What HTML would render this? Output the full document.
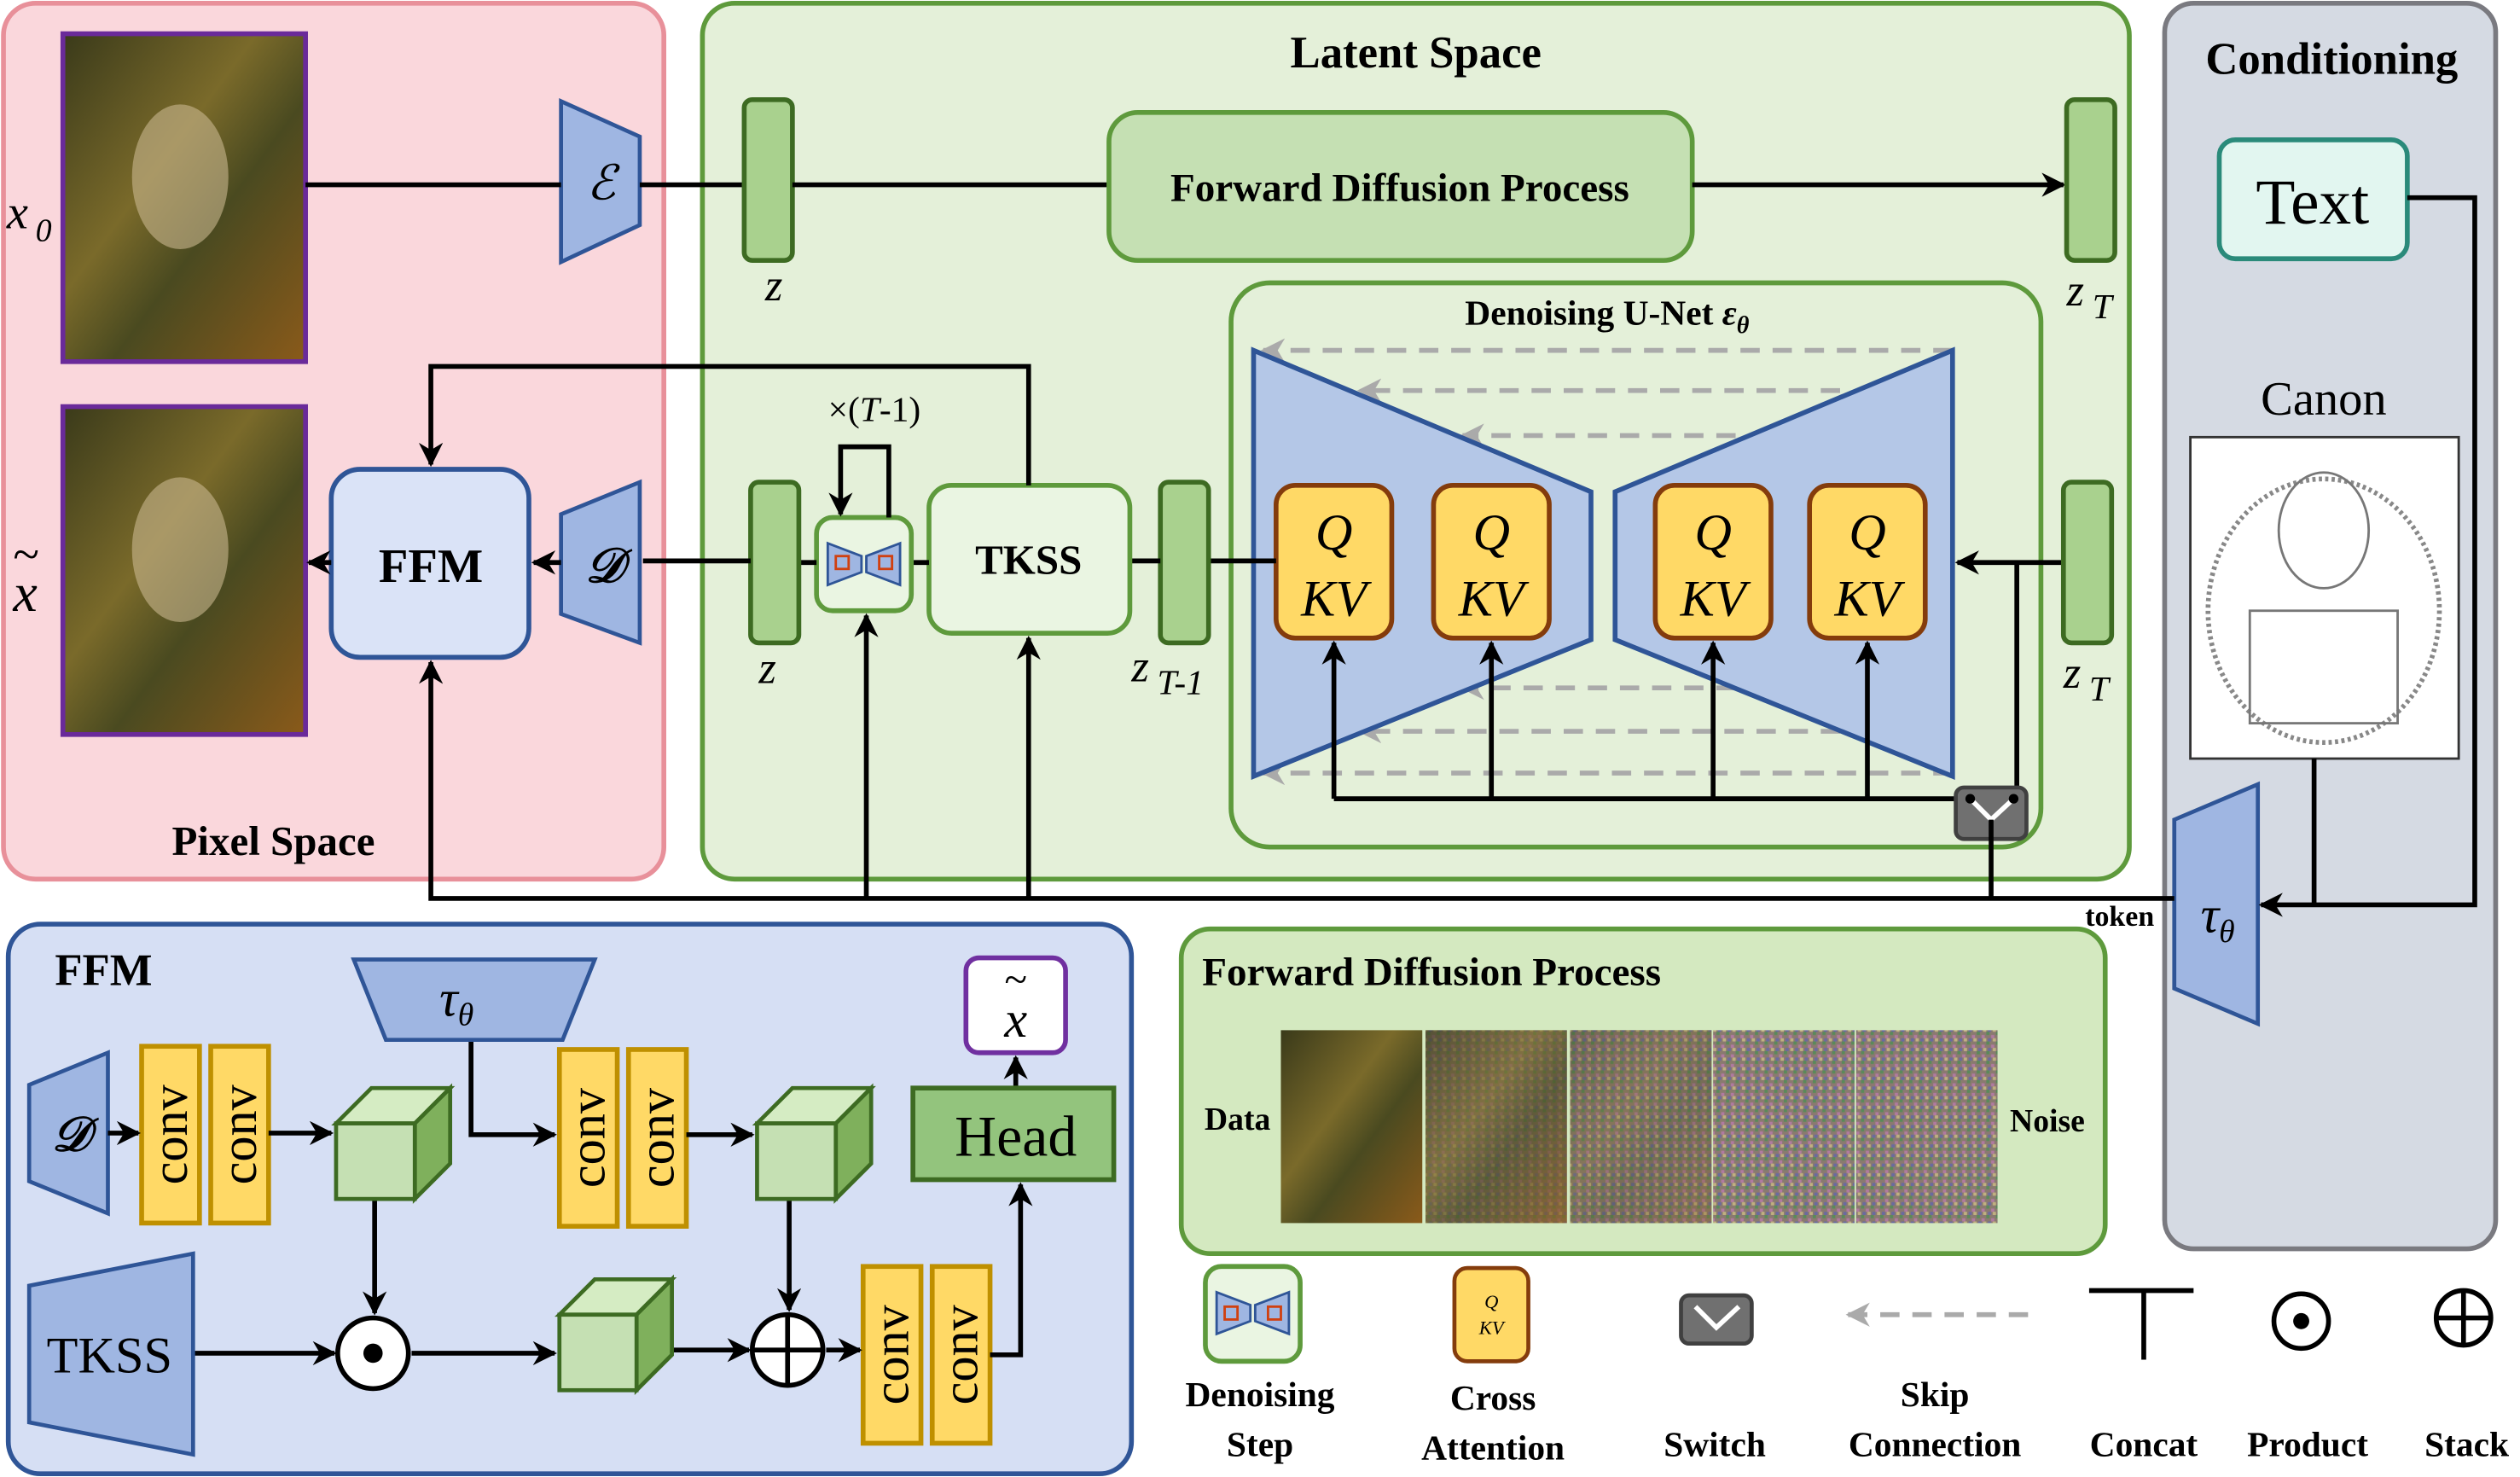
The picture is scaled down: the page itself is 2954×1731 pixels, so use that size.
<!DOCTYPE html>
<html><head><meta charset="utf-8"><style>
html,body{margin:0;padding:0;background:#fff}
svg{display:block}
text{font-family:"Liberation Serif",serif}
</style></head><body>
<svg width="2954" height="1731" viewBox="0 0 1568 919" xmlns="http://www.w3.org/2000/svg">
<defs>
<marker id="ar" viewBox="0 0 10 10" refX="9" refY="5" markerWidth="5" markerHeight="5" orient="auto-start-reverse"><path d="M0,0 L10,5 L0,10 L3,5 z" fill="#000"/></marker>
<marker id="ag" viewBox="0 0 10 10" refX="9" refY="5" markerWidth="5" markerHeight="5" orient="auto"><path d="M0,0 L10,5 L0,10 L3,5 z" fill="#aaa"/></marker>
<linearGradient id="paint" x1="0" y1="0" x2="1" y2="1"><stop offset="0" stop-color="#3a3a1a"/><stop offset=".4" stop-color="#7a6a2a"/><stop offset=".6" stop-color="#4a4a20"/><stop offset="1" stop-color="#8a5a1a"/></linearGradient>
<pattern id="noise" width="6" height="6" patternUnits="userSpaceOnUse"><rect width="6" height="6" fill="#8a7a70"/><rect width="2" height="2" fill="#5a8a5a"/><rect x="3" y="2" width="2" height="2" fill="#b07aa0"/><rect x="1" y="4" width="2" height="2" fill="#6a6aa0"/><rect x="4" y="4" width="2" height="2" fill="#c0b080"/></pattern>
</defs>

<rect x="2" y="2" width="411" height="545" rx="20" fill="#fad7dc" stroke="#e8909a" stroke-width="3"/>
<text x="170" y="532" font-size="26" font-weight="bold" text-anchor="middle">Pixel Space</text>
<rect x="437" y="2" width="888" height="545" rx="20" fill="#e4f0d9" stroke="#5e9a3c" stroke-width="3"/>
<text x="881" y="42" font-size="28" font-weight="bold" text-anchor="middle">Latent Space</text>
<rect x="1347" y="2" width="206" height="775" rx="18" fill="#d5dae3" stroke="#7a7a80" stroke-width="3"/>
<text x="1451" y="46" font-size="28" font-weight="bold" text-anchor="middle">Conditioning</text>

<rect x="39" y="21" width="151" height="204" fill="url(#paint)" stroke="#6a2a9a" stroke-width="3"/>
<ellipse cx="112" cy="110" rx="30" ry="45" fill="#c9b890" opacity=".6"/>
<rect x="39" y="253" width="151" height="204" fill="url(#paint)" stroke="#6a2a9a" stroke-width="3"/>
<ellipse cx="112" cy="342" rx="30" ry="45" fill="#c9b890" opacity=".6"/>
<text x="4" y="142" font-size="30" font-style="italic">x</text><text x="22" y="150" font-size="20" font-style="italic">0</text>
<text x="8" y="380" font-size="34" font-style="italic">x</text><text x="8" y="355" font-size="30">~</text>

<polygon points="349,63 398,85 398,140 349,163" fill="#9fb6e2" stroke="#2f5597" stroke-width="2.5"/>
<text x="374" y="124" font-size="30" font-style="italic" text-anchor="middle">ℰ</text>
<polygon points="349,320 398,300 398,400 349,382" fill="#9fb6e2" stroke="#2f5597" stroke-width="2.5"/>
<text x="376" y="362" font-size="30" font-style="italic" font-weight="bold" text-anchor="middle">𝒟</text>

<line x1="190" y1="115" x2="349" y2="115" stroke="#000" stroke-width="3"/>
<line x1="398" y1="115" x2="463" y2="115" stroke="#000" stroke-width="3"/>
<rect x="463" y="62" width="30" height="100" rx="5" fill="#a9d18e" stroke="#3d6b22" stroke-width="3"/>
<text x="476" y="187" font-size="28" font-style="italic">z</text>
<line x1="493" y1="115" x2="690" y2="115" stroke="#000" stroke-width="3"/>
<rect x="690" y="70" width="363" height="92" rx="18" fill="#c5e0b3" stroke="#5e9a3c" stroke-width="3"/>
<text x="871" y="125" font-size="25" font-weight="bold" text-anchor="middle">Forward Diffusion Process</text>
<line x1="1053" y1="115" x2="1284" y2="115" stroke="#000" stroke-width="3" marker-end="url(#ar)"/>
<rect x="1286" y="62" width="30" height="100" rx="5" fill="#a9d18e" stroke="#3d6b22" stroke-width="3"/>
<text x="1286" y="190" font-size="28" font-style="italic">z</text><text x="1302" y="198" font-size="22" font-style="italic">T</text>

<rect x="1381" y="87" width="117" height="74" rx="10" fill="#e2f6f0" stroke="#2a8a7a" stroke-width="3"/>
<text x="1439" y="139" font-size="40" text-anchor="middle">Text</text>
<text x="1446" y="258" font-size="30" text-anchor="middle">Canon</text>
<rect x="1363" y="272" width="167" height="200" fill="#fff" stroke="#333" stroke-width="1.5"/>
<ellipse cx="1446" cy="380" rx="72" ry="82" fill="none" stroke="#888" stroke-width="3" stroke-dasharray="2 2"/>
<ellipse cx="1446" cy="330" rx="28" ry="36" fill="none" stroke="#777" stroke-width="1.5"/>
<rect x="1400" y="380" width="92" height="70" fill="none" stroke="#777" stroke-width="1.5"/>
<polygon points="1353,510 1405,488 1405,637 1353,615" fill="#9fb6e2" stroke="#2f5597" stroke-width="2.5"/>
<text x="1380" y="580" font-size="32" font-style="italic" text-anchor="middle">τ<tspan font-size="20" dy="6">θ</tspan></text>
<text x="1319" y="576" font-size="18" font-weight="bold" text-anchor="middle">token</text>
<polyline points="1498,123 1540,123 1540,563 1407,563" fill="none" stroke="#000" stroke-width="3" marker-end="url(#ar)"/>
<polyline points="1440,472 1440,563" fill="none" stroke="#000" stroke-width="3"/>

<rect x="766" y="176" width="504" height="351" rx="24" fill="#e4f0d9" stroke="#5e9a3c" stroke-width="3"/>
<text x="1000" y="202" font-size="22" font-weight="bold" text-anchor="middle">Denoising U-Net <tspan font-style="italic">ε</tspan><tspan font-size="15" dy="5" font-style="italic">θ</tspan></text>
<g stroke="#aaa" stroke-width="3" stroke-dasharray="12 8" fill="none">
<line x1="1215" y1="218" x2="786" y2="218" marker-end="url(#ag)"/>
<line x1="1145" y1="243" x2="846" y2="243" marker-end="url(#ag)"/>
<line x1="1080" y1="271" x2="910" y2="271" marker-end="url(#ag)"/>
<line x1="1080" y1="428" x2="910" y2="428" marker-end="url(#ag)"/>
<line x1="1145" y1="455" x2="846" y2="455" marker-end="url(#ag)"/>
<line x1="1215" y1="481" x2="786" y2="481" marker-end="url(#ag)"/>
</g>
<polygon points="780,218 990,306 990,398 780,483" fill="#b4c7e7" stroke="#2f5597" stroke-width="3"/>
<polygon points="1005,306 1215,218 1215,483 1005,398" fill="#b4c7e7" stroke="#2f5597" stroke-width="3"/>
<g fill="#ffd966" stroke="#843c0c" stroke-width="3">
<rect x="794" y="302" width="72" height="95" rx="12"/><rect x="892" y="302" width="72" height="95" rx="12"/>
<rect x="1030" y="302" width="72" height="95" rx="12"/><rect x="1126" y="302" width="72" height="95" rx="12"/>
</g>
<g font-size="32" font-style="italic" text-anchor="middle">
<text x="830" y="342">Q</text><text x="830" y="383">KV</text>
<text x="928" y="342">Q</text><text x="928" y="383">KV</text>
<text x="1066" y="342">Q</text><text x="1066" y="383">KV</text>
<text x="1162" y="342">Q</text><text x="1162" y="383">KV</text>
</g>
<g stroke="#000" stroke-width="3" fill="none">
<line x1="830" y1="497" x2="830" y2="400" marker-end="url(#ar)"/>
<line x1="928" y1="497" x2="928" y2="400" marker-end="url(#ar)"/>
<line x1="1066" y1="497" x2="1066" y2="400" marker-end="url(#ar)"/>
<line x1="1162" y1="497" x2="1162" y2="400" marker-end="url(#ar)"/>
<line x1="830" y1="497" x2="1226" y2="497"/>
<line x1="1284" y1="350" x2="1218" y2="350" marker-end="url(#ar)"/>
<line x1="1255" y1="350" x2="1255" y2="497"/>
</g>
<rect x="1217" y="490" width="44" height="32" rx="5" fill="#707070" stroke="#404040" stroke-width="2.5"/>
<polyline points="1226,497 1239,510 1253,497" fill="none" stroke="#fff" stroke-width="3"/>
<circle cx="1226" cy="497" r="3" fill="#000"/><circle cx="1253" cy="497" r="3" fill="#000"/>
<line x1="1239" y1="510" x2="1239" y2="559" stroke="#000" stroke-width="3"/>

<rect x="1284" y="300" width="30" height="100" rx="5" fill="#a9d18e" stroke="#3d6b22" stroke-width="3"/>
<text x="1284" y="428" font-size="28" font-style="italic">z</text><text x="1300" y="436" font-size="22" font-style="italic">T</text>
<line x1="752" y1="349" x2="794" y2="349" stroke="#000" stroke-width="3"/>
<rect x="722" y="300" width="30" height="100" rx="5" fill="#a9d18e" stroke="#3d6b22" stroke-width="3"/>
<text x="704" y="424" font-size="28" font-style="italic">z</text><text x="720" y="432" font-size="22" font-style="italic">T-1</text>
<line x1="703" y1="349" x2="722" y2="349" stroke="#000" stroke-width="3"/>
<rect x="578" y="302" width="125" height="92" rx="14" fill="#eaf5e2" stroke="#5e9a3c" stroke-width="3"/>
<text x="640" y="357" font-size="26" font-weight="bold" text-anchor="middle">TKSS</text>
<line x1="567" y1="350" x2="578" y2="350" stroke="#000" stroke-width="3"/>
<rect x="508" y="322" width="59" height="58" rx="10" fill="#eaf5e2" stroke="#5e9a3c" stroke-width="3"/>
<polygon points="515,338 536,346 536,356 515,364" fill="#9fb6e2" stroke="#2f5597" stroke-width="1.5"/>
<polygon points="560,338 539,346 539,356 560,364" fill="#9fb6e2" stroke="#2f5597" stroke-width="1.5"/>
<rect x="520" y="346" width="8" height="8" fill="none" stroke="#d04010" stroke-width="1.5"/>
<rect x="547" y="346" width="8" height="8" fill="none" stroke="#d04010" stroke-width="1.5"/>
<polyline points="553,322 553,278 523,278 523,320" fill="none" stroke="#000" stroke-width="3" marker-end="url(#ar)"/>
<text x="544" y="262" font-size="22" text-anchor="middle">×(<tspan font-style="italic">T</tspan>-1)</text>
<line x1="497" y1="350" x2="508" y2="350" stroke="#000" stroke-width="3"/>
<rect x="467" y="300" width="30" height="100" rx="5" fill="#a9d18e" stroke="#3d6b22" stroke-width="3"/>
<text x="472" y="425" font-size="28" font-style="italic">z</text>
<line x1="467" y1="349" x2="400" y2="349" stroke="#000" stroke-width="3"/>
<line x1="349" y1="350" x2="332" y2="350" stroke="#000" stroke-width="3" marker-end="url(#ar)"/>
<rect x="206" y="292" width="123" height="117" rx="18" fill="#dae3f7" stroke="#2f5597" stroke-width="3"/>
<text x="268" y="362" font-size="30" font-weight="bold" text-anchor="middle">FFM</text>
<line x1="206" y1="350" x2="192" y2="350" stroke="#000" stroke-width="3" marker-end="url(#ar)"/>
<polyline points="640,302 640,228 268,228 268,289" fill="none" stroke="#000" stroke-width="3" marker-end="url(#ar)"/>
<polyline points="1353,559 268,559 268,412" fill="none" stroke="#000" stroke-width="3" marker-end="url(#ar)"/>
<line x1="539" y1="559" x2="539" y2="383" stroke="#000" stroke-width="3" marker-end="url(#ar)"/>
<line x1="640" y1="559" x2="640" y2="397" stroke="#000" stroke-width="3" marker-end="url(#ar)"/>

<rect x="5" y="575" width="699" height="342" rx="20" fill="#d6dff4" stroke="#2f5597" stroke-width="3"/>
<text x="34" y="613" font-size="28" font-weight="bold">FFM</text>
<polygon points="18,675 67,655 67,755 18,735" fill="#9fb6e2" stroke="#2f5597" stroke-width="2.5"/>
<text x="44" y="716" font-size="30" font-style="italic" font-weight="bold" text-anchor="middle">𝒟</text>
<g fill="#ffd966" stroke="#bf9000" stroke-width="3">
<rect x="88" y="651" width="36" height="110"/><rect x="131" y="651" width="36" height="110"/>
<rect x="348" y="653" width="36" height="110"/><rect x="391" y="653" width="36" height="110"/>
<rect x="537" y="788" width="36" height="110"/><rect x="580" y="788" width="36" height="110"/>
</g>
<g font-size="32" text-anchor="middle">
<text transform="translate(116,706) rotate(-90)">conv</text><text transform="translate(159,706) rotate(-90)">conv</text>
<text transform="translate(376,708) rotate(-90)">conv</text><text transform="translate(419,708) rotate(-90)">conv</text>
<text transform="translate(565,843) rotate(-90)">conv</text><text transform="translate(608,843) rotate(-90)">conv</text>
</g>
<g stroke="#000" stroke-width="3" fill="none">
<line x1="67" y1="705" x2="86" y2="705" marker-end="url(#ar)"/>
<line x1="167" y1="705" x2="206" y2="705" marker-end="url(#ar)"/>
<line x1="427" y1="706" x2="468" y2="706" marker-end="url(#ar)"/>
<polyline points="293,647 293,706 345,706" marker-end="url(#ar)"/>
<line x1="233" y1="746" x2="233" y2="817" marker-end="url(#ar)"/>
<line x1="491" y1="746" x2="491" y2="815" marker-end="url(#ar)"/>
<line x1="120" y1="842" x2="208" y2="842" marker-end="url(#ar)"/>
<line x1="256" y1="842" x2="345" y2="842" marker-end="url(#ar)"/>
<line x1="418" y1="840" x2="466" y2="840" marker-end="url(#ar)"/>
<line x1="514" y1="840" x2="535" y2="840" marker-end="url(#ar)"/>
<polyline points="616,843 635,843 635,737" marker-end="url(#ar)"/>
<line x1="632" y1="677" x2="632" y2="658" marker-end="url(#ar)"/>
</g>
<g stroke="#3d6b22" stroke-width="2.5">
<polygon points="209,699 231,677 280,677 258,699" fill="#d5ecc3"/><polygon points="258,699 280,677 280,724 258,746" fill="#7fb05c"/><rect x="209" y="699" width="49" height="47" fill="#c5e0b3"/>
<polygon points="471,699 493,677 542,677 520,699" fill="#d5ecc3"/><polygon points="520,699 542,677 542,724 520,746" fill="#7fb05c"/><rect x="471" y="699" width="49" height="47" fill="#c5e0b3"/>
<polygon points="348,818 370,796 418,796 396,818" fill="#d5ecc3"/><polygon points="396,818 418,796 418,843 396,865" fill="#7fb05c"/><rect x="348" y="818" width="48" height="47" fill="#c5e0b3"/>
</g>
<polygon points="220,597 370,597 350,647 240,647" fill="#9fb6e2" stroke="#2f5597" stroke-width="2.5"/>
<text x="284" y="632" font-size="32" font-style="italic" text-anchor="middle">τ<tspan font-size="20" dy="6">θ</tspan></text>
<rect x="601" y="596" width="62" height="59" rx="8" fill="#fff" stroke="#7030a0" stroke-width="3"/>
<text x="632" y="645" font-size="32" font-style="italic" text-anchor="middle">x</text><text x="632" y="618" font-size="26" text-anchor="middle">~</text>
<rect x="568" y="677" width="125" height="57" fill="#93c47d" stroke="#3d6b22" stroke-width="3"/>
<text x="632" y="719" font-size="36" text-anchor="middle">Head</text>
<polygon points="18,800 120,780 120,905 18,885" fill="#9fb6e2" stroke="#2f5597" stroke-width="2.5"/>
<text x="68" y="854" font-size="32" text-anchor="middle">TKSS</text>
<circle cx="232" cy="842" r="22" fill="#fff" stroke="#000" stroke-width="3"/><circle cx="232" cy="842" r="6" fill="#000"/>
<circle cx="490" cy="840" r="22" fill="#fff" stroke="#000" stroke-width="3"/>
<line x1="468" y1="840" x2="512" y2="840" stroke="#000" stroke-width="3"/><line x1="490" y1="818" x2="490" y2="862" stroke="#000" stroke-width="3"/>

<rect x="735" y="578" width="575" height="202" rx="18" fill="#d4e9c0" stroke="#5e9a3c" stroke-width="3"/>
<text x="748" y="613" font-size="25" font-weight="bold">Forward Diffusion Process</text>
<text x="770" y="703" font-size="20" font-weight="bold" text-anchor="middle">Data</text>
<text x="1274" y="704" font-size="20" font-weight="bold" text-anchor="middle">Noise</text>
<rect x="797" y="641" width="88" height="120" fill="url(#paint)"/>
<rect x="887" y="641" width="88" height="120" fill="url(#paint)"/><rect x="887" y="641" width="88" height="120" fill="url(#noise)" opacity=".35"/>
<rect x="977" y="641" width="88" height="120" fill="url(#paint)"/><rect x="977" y="641" width="88" height="120" fill="url(#noise)" opacity=".7"/>
<rect x="1066" y="641" width="88" height="120" fill="url(#noise)"/>
<rect x="1155" y="641" width="88" height="120" fill="url(#noise)"/>

<rect x="750" y="788" width="59" height="59" rx="10" fill="#eaf5e2" stroke="#5e9a3c" stroke-width="3"/>
<polygon points="757,804 778,812 778,822 757,830" fill="#9fb6e2" stroke="#2f5597" stroke-width="1.5"/>
<polygon points="802,804 781,812 781,822 802,830" fill="#9fb6e2" stroke="#2f5597" stroke-width="1.5"/>
<rect x="762" y="813" width="8" height="8" fill="none" stroke="#d04010" stroke-width="1.5"/>
<rect x="789" y="813" width="8" height="8" fill="none" stroke="#d04010" stroke-width="1.5"/>
<rect x="905" y="789" width="46" height="58" rx="8" fill="#ffd966" stroke="#843c0c" stroke-width="2.5"/>
<text x="928" y="814" font-size="12" font-style="italic" text-anchor="middle">Q</text><text x="928" y="830" font-size="12" font-style="italic" text-anchor="middle">KV</text>
<rect x="1046" y="806" width="44" height="30" rx="5" fill="#707070" stroke="#404040" stroke-width="2.5"/>
<polyline points="1055,813 1068,826 1082,813" fill="none" stroke="#fff" stroke-width="3"/>
<line x1="1262" y1="818" x2="1150" y2="818" stroke="#aaa" stroke-width="3" stroke-dasharray="12 8" marker-end="url(#ag)"/>
<line x1="1300" y1="803" x2="1365" y2="803" stroke="#000" stroke-width="3"/><line x1="1334" y1="803" x2="1334" y2="846" stroke="#000" stroke-width="3"/>
<circle cx="1432" cy="822" r="17" fill="#fff" stroke="#000" stroke-width="3"/><circle cx="1432" cy="822" r="5" fill="#000"/>
<circle cx="1533" cy="820" r="17" fill="#fff" stroke="#000" stroke-width="3"/>
<line x1="1516" y1="820" x2="1550" y2="820" stroke="#000" stroke-width="3"/><line x1="1533" y1="803" x2="1533" y2="837" stroke="#000" stroke-width="3"/>
<g font-size="22" font-weight="bold" text-anchor="middle">
<text x="784" y="875">Denoising</text><text x="784" y="906">Step</text>
<text x="929" y="877">Cross</text><text x="929" y="908">Attention</text>
<text x="1067" y="906">Switch</text>
<text x="1204" y="875">Skip</text><text x="1204" y="906">Connection</text>
<text x="1334" y="906">Concat</text>
<text x="1436" y="906">Product</text>
<text x="1535" y="906">Stack</text>
</g>
</svg>
</body></html>
